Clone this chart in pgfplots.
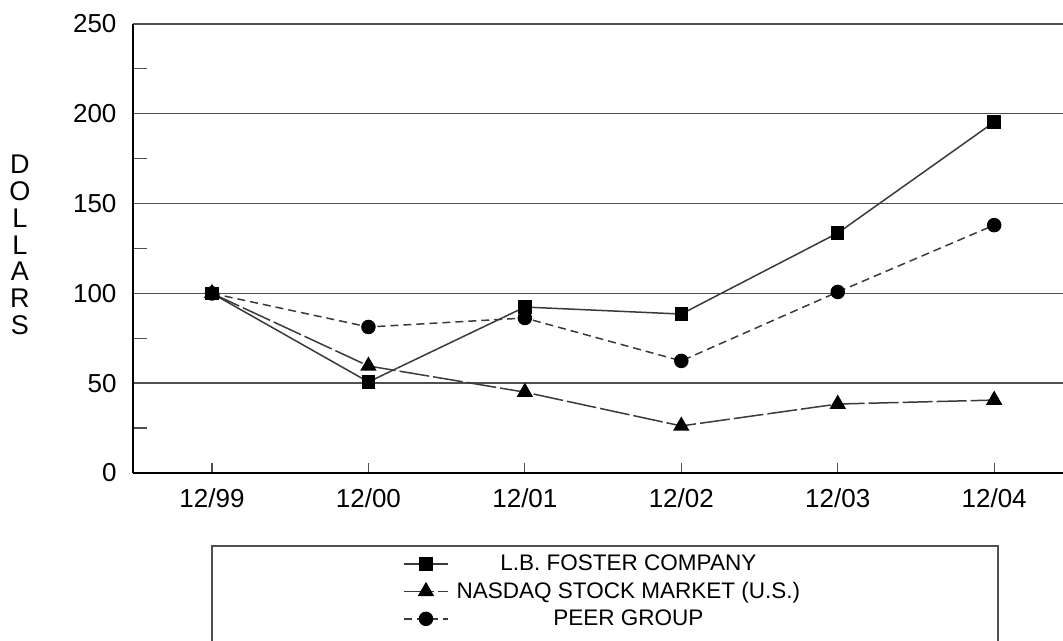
\documentclass[border=0pt]{standalone}
\usepackage{pgfplots}
\pgfplotsset{compat=1.18}
\usepackage{fontspec}
\setmainfont{Liberation Sans}
\definecolor{lncol}{HTML}{3A3A3A}
\definecolor{gridcol}{HTML}{505050}
\begin{document}
\begin{tikzpicture}
\begin{axis}[
    name=ax, at={(0,0)}, anchor=south west,
    scale only axis, width=930pt, height=449pt,
    xmin=-0.505, xmax=5.44, ymin=0, ymax=250,
    axis x line=bottom, axis y line=left,
    axis line style={line width=1.6pt, -, black},
    xtick={0,...,5},
    xticklabels={12/99,12/00,12/01,12/02,12/03,12/04},
    ytick={0,50,...,250}, minor ytick={25,75,...,225},
    ymajorgrids, major grid style={gridcol, line width=1.4pt},
    tick align=inside,
    major tick length=10pt, minor tick length=14pt,
    tick style={line width=1.2pt, gridcol},
    ticklabel style={font=\fontsize{26}{30}\selectfont},
    yticklabel style={xshift=-13pt},
    xticklabel style={yshift=-12pt},
    /pgf/number format/assume math mode=true,
    ylabel={D\\O\\L\\L\\A\\R\\S},
    every axis y label/.style={at={(rel axis cs:0,0.508)}, anchor=center,
        xshift=-113pt, align=center, font=\fontsize{27}{26.7}\selectfont},
    clip=false,
    legend cell align=center,
    legend style={at={(rel axis cs:0.505,-0.176)}, anchor=north, draw=none, fill=none,
        font=\fontsize{22.5}{27}\selectfont, row sep=8pt, column sep=6pt,
        nodes={inner ysep=1pt}},
    legend image code/.code={\draw[mark repeat=2, mark phase=2]
        plot coordinates {(0pt,0pt) (22pt,0pt) (44pt,0pt)};},
]
\addplot[lncol, line width=1.5pt, mark=square*, mark size=6pt,
    mark options={solid, fill=black, draw=black}]
    coordinates {(0,100) (1,50.7) (2,92.4) (3,88.5) (4,133.6) (5,195.4)};
\addlegendentry{L.B. FOSTER COMPANY}
\addplot[lncol, line width=1.5pt, dash pattern=on 30pt off 4pt, mark=triangle*, mark size=8pt,
    mark options={solid, fill=black, draw=black}]
    coordinates {(0,100) (1,59.6) (2,45.0) (3,26.2) (4,38.4) (5,40.6)};
\addlegendentry{NASDAQ STOCK MARKET (U.S.)}
\addplot[lncol, line width=1.5pt, dash pattern=on 8pt off 5pt, mark=*, mark size=6.5pt,
    mark options={solid, fill=black, draw=black}]
    coordinates {(0,100) (1,81.3) (2,86.3) (3,62.4) (4,100.8) (5,138.0)};
\addlegendentry{PEER GROUP}
\draw[gridcol, line width=1.4pt] (rel axis cs:0.0849,-0.1626) rectangle (rel axis cs:0.930,-0.6);
\end{axis}
\pgfresetboundingbox
\useasboundingbox ([xshift=-133pt,yshift=-168pt]ax.south west) rectangle ([yshift=24pt]ax.north east);
\end{tikzpicture}
\end{document}
